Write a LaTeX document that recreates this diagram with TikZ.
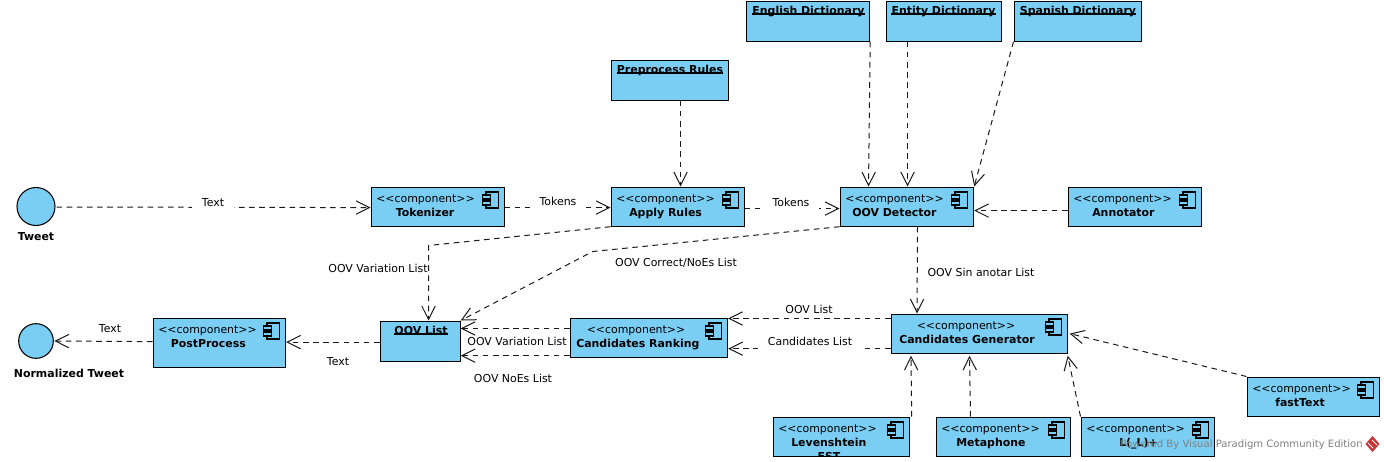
\documentclass[tikz,border=0pt]{standalone}
\usepackage{fontspec}
\setmainfont{DejaVu Sans}
\usetikzlibrary{arrows.meta,calc}
\definecolor{boxblue}{HTML}{7ACEF4}
\definecolor{shadowblue}{HTML}{BFE6F9}
\definecolor{wm}{HTML}{808080}
\definecolor{wmred}{HTML}{CC3333}
\tikzset{
  x=0.75pt,y=-0.75pt,
  boxstyle/.style={draw=black,fill=boxblue,line width=0.9pt,rectangle,inner sep=0pt,anchor=north west},
  txt/.style={font=\fontsize{8.2pt}{10pt}\selectfont,inner sep=0pt,text=black},
  bold/.style={font=\fontsize{8.2pt}{10pt}\selectfont\bfseries,inner sep=0pt,text=black},
  lab/.style={txt,fill=white,inner xsep=7.5pt,inner ysep=5pt},
  dep/.style={draw=black!90,line width=0.75pt,dash pattern=on 4.2pt off 3.4pt,-{Straight Barb[length=10pt,width=10pt,line width=0.75pt]}},
  icon/.style={line width=0.8pt,fill=boxblue},
}
% name x1 y1 x2 y2
\newcommand{\bluebox}[5]{%
  \fill[shadowblue] (#2+1,#3+1) rectangle (#4+1,#5+1);
  \node[boxstyle,minimum width=(#4-#2)*0.75pt,minimum height=(#5-#3)*0.75pt] (#1) at (#2,#3) {};
}
% name x1 y1 x2 y2 titlex title
\newcommand{\compbox}[7]{%
  \bluebox{#1}{#2}{#3}{#4}{#5}
  \node[txt,anchor=base west] (#1s) at (#2+5.5,#3+16) {<{}<component>{}>};
  \node[bold,anchor=base west] (#1t) at (#6,#3+30) {#7};
  \draw[icon] (#4-17.5,#3+5.5) rectangle (#4-5,#3+21.5);
  \draw[icon] (#4-21,#3+8.5) rectangle (#4-13,#3+12.5);
  \draw[icon] (#4-21,#3+14.5) rectangle (#4-13,#3+18.5);
}
% name x1 y1 x2 y2 titlecx title
\newcommand{\artbox}[7]{%
  \bluebox{#1}{#2}{#3}{#4}{#5}
  \node[bold,anchor=base] (#1t) at (#6,#3+13.5) {#7};
  \draw[line width=0.8pt,black] (#1t.base west) -- (#1t.base east);
}
\begin{document}
\begin{tikzpicture}
\useasboundingbox (0,0) rectangle (1384,461);
\fill[white] (0,0) rectangle (1384,461);

\artbox{eng}{745.5}{0.5}{868.5}{40.5}{808.5}{English Dictionary}
\artbox{ent}{885.5}{0.5}{1000.5}{40.5}{943.5}{Entity Dictionary}
\artbox{spa}{1013.5}{0.5}{1140.5}{40.5}{1078}{Spanish Dictionary}
\artbox{pre}{610.5}{59.5}{727.5}{99.5}{670}{Preprocess Rules}
\artbox{oovl}{379.5}{320.5}{459.5}{360.5}{421}{OOV List}

\compbox{tok}{370.5}{186.5}{503.5}{225.5}{395.5}{Tokenizer}
\compbox{app}{610.5}{186.5}{743.5}{225.5}{629}{Apply Rules}
\compbox{det}{839.5}{186.5}{972.5}{225.5}{852}{OOV Detector}
\compbox{ann}{1067.5}{186.5}{1200.5}{225.5}{1092}{Annotator}
\compbox{post}{152.5}{317.5}{284.5}{366.5}{170.5}{PostProcess}
\compbox{fast}{1246.5}{376.5}{1378.5}{415.5}{1275}{fastText}
\compbox{meta}{935.5}{416.5}{1069.5}{455.5}{956}{Metaphone}
\compbox{lpl}{1080.5}{416.5}{1213.5}{455.5}{1119}{L(\_L)+}

% Components whose stereotype line is indented
\bluebox{rank}{569.5}{317.5}{726.5}{356.5}
\node[txt,anchor=base west] (ranks) at (586.5,333.5) {<{}<component>{}>};
\node[bold,anchor=base west] (rankt) at (576,347.5) {Candidates Ranking};
\draw[icon] (709,323) rectangle (721.5,339);
\draw[icon] (705.5,326) rectangle (713.5,330);
\draw[icon] (705.5,332) rectangle (713.5,336);

\bluebox{gen}{890.5}{313.5}{1066.5}{352.5}
\node[txt,anchor=base west] (gens) at (916.5,329.5) {<{}<component>{}>};
\node[bold,anchor=base west] (gent) at (899,343.5) {Candidates Generator};
\draw[icon] (1049,319) rectangle (1061.5,335);
\draw[icon] (1045.5,322) rectangle (1053.5,326);
\draw[icon] (1045.5,328) rectangle (1053.5,332);

\compbox{lev}{772.5}{416.5}{908.5}{455.5}{791}{Levenshtein}
\begin{scope}
  \clip (772,416) rectangle (909,456);
  \node[bold,anchor=base] (fst) at (829,460) {FST};
\end{scope}

\node[circle,draw=black,fill=boxblue,line width=0.8pt,minimum size=28.5pt,inner sep=0pt] (tw) at (36,206.5) {};
\node[bold] (twl) at (36,237) {Tweet};
\node[circle,draw=black,fill=boxblue,line width=0.8pt,minimum size=26pt,inner sep=0pt] (nt) at (36,341) {};
\node[bold] (ntl) at (69,373) {Normalized Tweet};

% Connectors
\draw[dep] ($(eng.south east)+(0.5,0)$) -- ($(det.north west)+(29,0)$);
\draw[dep] ($(ent.south west)+(22,0)$) -- ($(det.north west)+(68,0)$);
\draw[dep] (spa.south west) -- ($(det.north east)+(0.5,0)$);
\draw[dep] ($(pre.south west)+(70,0)$) -- ($(app.north west)+(70,0)$);
\draw[dep] ($(ann.west)+(0,4)$) -- ($(det.east)+(0.5,4)$);
\draw[dep] ($(tw.east)+(1,0.5)$) -- ($(tok.west)+(0,1)$);
\draw[dep] ($(tok.east)+(0,1)$) -- ($(app.west)+(0,1)$);
\draw[dep] ($(app.east)+(0,2)$) -- ($(det.west)+(0,2)$);
\draw[dep] (app.south west) -- ($(oovl.north west)+(49,-75)$) -- ($(oovl.north west)+(49,0)$);
\draw[dep] (det.south west) -- ($(oovl.north east)+(132,-69)$) -- (oovl.north east);
\draw[dep] ($(det.south west)+(78,0)$) -- ($(gen.north west)+(26.5,0)$);
\draw[dep] ($(gen.north west)+(0,5)$) -- ($(rank.north east)+(0.5,1)$);
\draw[dep] ($(gen.south west)+(0,-5)$) -- ($(rank.south east)+(0.5,-9)$);
\draw[dep] ($(rank.north west)+(0,11)$) -- ($(oovl.north east)+(0,8)$);
\draw[dep] ($(rank.south west)+(0,-2)$) -- ($(oovl.south east)+(0,-6)$);
\draw[dep] ($(oovl.west)+(0,1)$) -- ($(post.east)+(0.5,-0.5)$);
\draw[dep] ($(post.west)+(0,-1)$) -- ($(nt.east)+(0.5,0)$);
\draw[dep] ($(lev.north east)+(2,0)$) -- ($(gen.south west)+(20.5,2)$);
\draw[dep] ($(meta.north west)+(35,0)$) -- ($(gen.south west)+(79,2)$);
\draw[dep] (lpl.north west) -- ($(gen.south east)+(0,2)$);
\draw[dep] (fast.north west) -- ($(gen.east)+(2,0)$);

% Labels
\node[lab] (l1) at (213,203) {Text};
\node[lab] (l2) at (558,201) {Tokens};
\node[lab] (l3) at (791,202) {Tokens};
\node[txt] (l4) at (378,268) {OOV Variation List};
\node[txt] (l5) at (676,262.5) {OOV Correct/NoEs List};
\node[txt] (l6) at (981,272) {OOV Sin anotar List};
\node[txt] (l7) at (809,309) {OOV List};
\node[lab] (l8) at (810,341) {Candidates List};
\node[txt] (l9) at (517,341) {OOV Variation List};
\node[txt] (l10) at (513,378) {OOV NoEs List};
\node[txt] (l11) at (338,362) {Text};
\node[txt] (l12) at (110,329) {Text};

% Watermark
\node[inner sep=0pt,anchor=east,text=wm,font=\fontsize{7.55pt}{9pt}\selectfont] (wmk) at (1363,444.5) {Powered By Visual Paradigm Community Edition};
\fill[wmred] (1372.5,436) -- (1379.5,444) -- (1372.5,452) -- (1365.5,444) -- cycle;
\draw[white,line width=0.6pt] (1368,443) -- (1373,448) (1372,440) -- (1377,445);
\end{tikzpicture}
\end{document}
